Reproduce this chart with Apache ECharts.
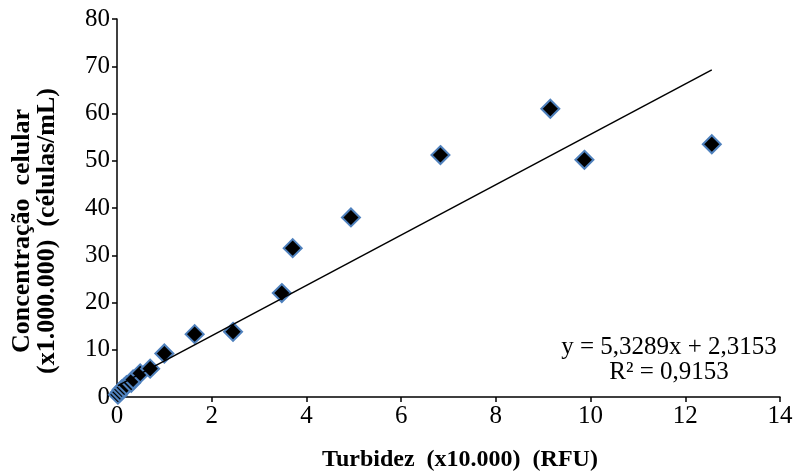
<!DOCTYPE html>
<html>
<head>
<meta charset="utf-8">
<script src="https://cdn.jsdelivr.net/npm/echarts@6/dist/echarts.min.js"></script>
<style>
html,body{margin:0;padding:0;background:#fff;}
#chart{width:799px;height:471px;}
</style>
</head>
<body>
<div id="chart"></div>
<script>
// Data
var turbidez = [0.02, 0.06, 0.10, 0.15, 0.20, 0.30, 0.34, 0.49, 0.70, 1.00, 1.64, 2.45, 3.48, 3.71, 4.94, 6.83, 9.15, 9.87, 12.56];
var concentracao = [0.5, 1.0, 1.6, 2.0, 2.5, 3.0, 3.7, 5.0, 6.0, 9.2, 13.3, 13.8, 22.0, 31.5, 38.0, 51.2, 61.0, 50.2, 53.5];
var trendSlope = 5.3289;
var trendIntercept = 2.3153;
var rSquared = '0,9153';
var xTicks = [0, 2, 4, 6, 8, 10, 12, 14];
var yTicks = [0, 10, 20, 30, 40, 50, 60, 70, 80];
var xTitle = 'Turbidez  (x10.000)  (RFU)';
var yTitle = 'Concentração  celular\n(x1.000.000)  (células/mL)';

var FONT = "'Liberation Serif', 'Times New Roman', serif";

var points = turbidez.map(function (x, i) { return [x, concentracao[i]]; });
var xMinData = Math.min.apply(null, turbidez);
var xMaxData = Math.max.apply(null, turbidez);
var trendLine = [
  [xMinData, trendSlope * xMinData + trendIntercept],
  [xMaxData, trendSlope * xMaxData + trendIntercept]
];
function fmt(v) { return String(v).replace('.', ','); }

var chart = echarts.init(document.getElementById('chart'), null, {renderer: 'canvas'});
chart.setOption({
  animation: false,
  backgroundColor: '#ffffff',
  grid: {left: 117, right: 19, top: 19, bottom: 74, containLabel: false, outerBoundsMode: 'none'},
  xAxis: {
    type: 'value',
    min: xTicks[0], max: xTicks[xTicks.length - 1], interval: 2,
    splitLine: {show: false},
    axisLine: {show: true, onZero: false, lineStyle: {color: '#000', width: 1.5}},
    axisTick: {show: true, inside: false, length: 5, lineStyle: {color: '#000', width: 1.5}},
    axisLabel: {color: '#000', fontFamily: FONT, fontSize: 25, margin: 7}
  },
  yAxis: {
    type: 'value',
    min: yTicks[0], max: yTicks[yTicks.length - 1], interval: 10,
    splitLine: {show: false},
    axisLine: {show: true, onZero: false, lineStyle: {color: '#000', width: 1.5}},
    axisTick: {show: true, inside: false, length: 5, lineStyle: {color: '#000', width: 1.5}},
    axisLabel: {color: '#000', fontFamily: FONT, fontSize: 25, margin: 7}
  },
  series: [
    {
      type: 'scatter',
      data: points,
      symbol: 'diamond',
      symbolSize: 18,
      itemStyle: {color: '#000000', borderColor: '#4f81bd', borderWidth: 2, opacity: 1},
      z: 2
    },
    {
      type: 'line',
      data: trendLine,
      symbol: 'none',
      lineStyle: {color: '#000', width: 1.5},
      z: 3
    }
  ],
  graphic: [
    {
      type: 'text',
      x: 669, y: 360,
      style: {
        text: 'y = ' + fmt(trendSlope) + 'x + ' + fmt(trendIntercept) + '\nR² = ' + rSquared,
        font: "25px 'Liberation Serif', 'Times New Roman', serif",
        fill: '#000',
        align: 'center',
        verticalAlign: 'middle',
        lineHeight: 25
      }
    },
    {
      type: 'text',
      x: 460, y: 460,
      style: {
        text: xTitle,
        font: "bold 24px 'Liberation Serif', 'Times New Roman', serif",
        fill: '#000',
        align: 'center',
        verticalAlign: 'middle'
      }
    },
    {
      type: 'text',
      x: 35, y: 231,
      rotation: Math.PI / 2,
      style: {
        text: yTitle,
        font: "bold 26px 'Liberation Serif', 'Times New Roman', serif",
        fill: '#000',
        align: 'center',
        verticalAlign: 'middle',
        lineHeight: 25
      }
    }
  ]
});
</script>
</body>
</html>
